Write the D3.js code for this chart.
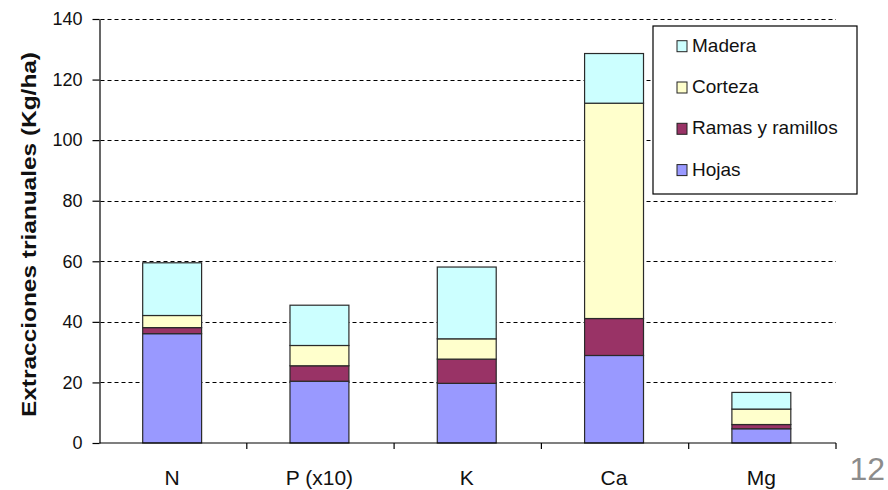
<!DOCTYPE html>
<html lang="es">
<head>
    <meta charset="utf-8">
    <title>Extracciones trianuales</title>
    <script src="https://cdn.jsdelivr.net/npm/d3@7"></script>
    <style>
        body { margin: 0; background: #fff; }
        text { font-family: Arial, "Liberation Sans", sans-serif; }
    </style>
</head>
<body>
    <svg id="chart" width="888" height="490"></svg>
    <script>
        // datos
        var categories = ["N", "P (x10)", "K", "Ca", "Mg"];
        var seriesNames = ["Hojas", "Ramas y ramillos", "Corteza", "Madera"];
        var hojas = [36.1, 20.4, 19.7, 28.9, 4.7];
        var ramas = [2.0, 5.1, 8.0, 12.2, 1.4];
        var corteza = [4.0, 6.7, 6.7, 71.1, 5.1];
        var madera = [17.4, 13.3, 23.7, 16.4, 5.5];
        var yTicks = [0, 20, 40, 60, 80, 100, 120, 140];
        var colors = ["#9999ff", "#993366", "#ffffcc", "#ccffff"];

        var svg = d3.select("#chart");
        var plotLeft = 99.5, plotRight = 836, plotTop = 19, plotBottom = 443;

        var x = d3.scaleBand().domain(categories).range([plotLeft, plotRight]).padding(0);
        var y = d3.scaleLinear().domain([0, 140]).range([plotBottom, plotTop]);

        var rows = categories.map(function (c, i) {
            return { cat: c, "Hojas": hojas[i], "Ramas y ramillos": ramas[i], "Corteza": corteza[i], "Madera": madera[i] };
        });
        var stacked = d3.stack().keys(seriesNames)(rows);

        // lineas de rejilla
        svg.append("g").selectAll("line")
            .data(yTicks.filter(function (d) { return d > 0; }))
            .enter().append("line")
            .attr("x1", plotLeft + 1).attr("x2", plotRight)
            .attr("y1", function (d) { return Math.round(y(d)) + 0.5; })
            .attr("y2", function (d) { return Math.round(y(d)) + 0.5; })
            .attr("stroke", "#000").attr("stroke-width", 1)
            .attr("stroke-dasharray", "4,3");

        // barras
        var bw = x.bandwidth() * 0.4;
        svg.append("g").selectAll("g")
            .data(stacked)
            .enter().append("g")
            .attr("fill", function (d, i) { return colors[i]; })
            .selectAll("rect")
            .data(function (d) { return d; })
            .enter().append("rect")
            .attr("x", function (d) { return x(d.data.cat) + (x.bandwidth() - bw) / 2 - 1; })
            .attr("width", bw)
            .attr("y", function (d) { return y(d[1]); })
            .attr("height", function (d) { return y(d[0]) - y(d[1]); })
            .attr("stroke", "#2a2a2a").attr("stroke-width", 1.2);

        // eje Y
        var yAxis = svg.append("g")
            .attr("transform", "translate(" + plotLeft + ",0)")
            .call(d3.axisLeft(y).tickValues(yTicks).tickSize(7).tickSizeOuter(0).tickPadding(10));
        yAxis.select(".domain").attr("stroke", "#000").attr("stroke-width", 1.2);
        yAxis.selectAll(".tick line").attr("stroke", "#000").attr("stroke-width", 1.2);
        yAxis.selectAll(".tick text").attr("font-size", 18).attr("fill", "#111")
            .attr("font-family", "Arial, 'Liberation Sans', sans-serif");

        // eje X
        var xg = svg.append("g");
        xg.append("line").attr("x1", plotLeft).attr("x2", plotRight)
            .attr("y1", plotBottom).attr("y2", plotBottom)
            .attr("stroke", "#000").attr("stroke-width", 1.2);
        var bounds = categories.map(function (c) { return x(c); }).concat([plotRight]);
        xg.selectAll("line.tk").data(bounds.slice(1)).enter().append("line")
            .attr("class", "tk")
            .attr("x1", function (d) { return d; }).attr("x2", function (d) { return d; })
            .attr("y1", plotBottom).attr("y2", plotBottom + 6)
            .attr("stroke", "#000").attr("stroke-width", 1.2);
        xg.selectAll("text").data(categories).enter().append("text")
            .attr("x", function (d) { return x(d) + x.bandwidth() / 2 - 1; })
            .attr("y", 485)
            .attr("text-anchor", "middle")
            .attr("font-size", 21).attr("fill", "#111")
            .text(function (d) { return d; });

        // titulo eje Y
        svg.append("text")
            .attr("transform", "translate(36,234.5) rotate(-90)")
            .attr("text-anchor", "middle")
            .attr("font-size", 20).attr("font-weight", "bold").attr("fill", "#111")
            .attr("textLength", 365).attr("lengthAdjust", "spacingAndGlyphs")
            .text("Extracciones trianuales (Kg/ha)");

        // leyenda
        var legend = svg.append("g");
        legend.append("rect")
            .attr("x", 653).attr("y", 26).attr("width", 204).attr("height", 168)
            .attr("fill", "#fff").attr("stroke", "#000").attr("stroke-width", 1.2);
        var legendOrder = seriesNames.slice().reverse();
        var li = legend.selectAll("g.item").data(legendOrder).enter().append("g")
            .attr("class", "item")
            .attr("transform", function (d, i) { return "translate(677," + (51.7 + i * 41.3) + ")"; });
        li.append("rect")
            .attr("x", 0).attr("y", -11).attr("width", 10).attr("height", 11)
            .attr("fill", function (d) { return colors[seriesNames.indexOf(d)]; })
            .attr("stroke", "#222").attr("stroke-width", 1);
        li.append("text")
            .attr("x", 15).attr("y", 0)
            .attr("font-size", 19).attr("fill", "#111")
            .text(function (d) { return d; });

        // numero de pagina
        svg.append("text")
            .attr("x", 885).attr("y", 480)
            .attr("text-anchor", "end")
            .attr("font-size", 32).attr("fill", "#8c8c8c")
            .text("12");
    </script>
</body>
</html>
